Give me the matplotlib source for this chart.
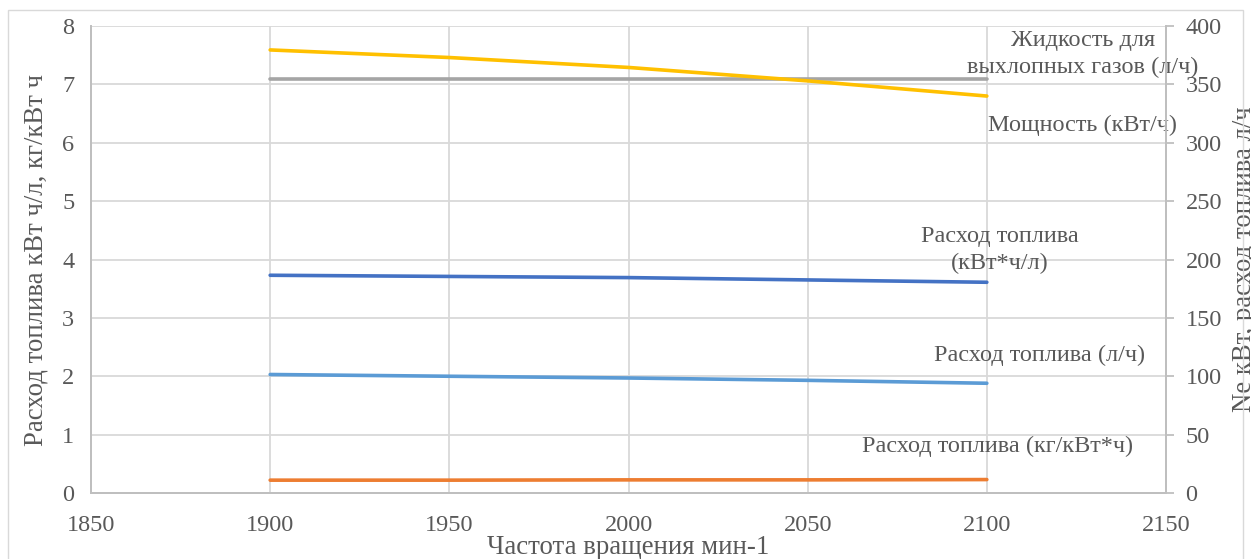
import matplotlib
matplotlib.use("Agg")
import matplotlib.pyplot as plt
from matplotlib.patches import Rectangle

plt.rcParams['font.family'] = ['Liberation Serif', 'DejaVu Serif']

# Engine speed, rpm
rpm = [1900, 1950, 2000, 2050, 2100]

# Left axis series
fuel_kwh_per_l = [3.73, 3.71, 3.69, 3.65, 3.61]      # кВт*ч/л
fuel_kg_per_kwh = [0.22, 0.22, 0.225, 0.225, 0.23]   # кг/кВт*ч
def_fluid = [7.1, 7.1, 7.1, 7.1, 7.1]                # л/ч

# Right axis series
power = [379.5, 373.0, 364.5, 353.0, 340.0]          # кВт
fuel_l_per_h = [101.5, 100.0, 98.5, 96.5, 94.0]      # л/ч

x_ticks = [1850, 1900, 1950, 2000, 2050, 2100, 2150]
left_ticks = [0, 1, 2, 3, 4, 5, 6, 7, 8]
right_ticks = [0, 50, 100, 150, 200, 250, 300, 350, 400]

TXT = '#595959'
GRID = '#D9D9D9'
FS = 17.5
FS_TITLE = 19.3

fig = plt.figure(figsize=(12.51, 5.59), dpi=100)
fig.patches.append(Rectangle((8 / 1251, -0.1), (1243 - 8) / 1251, 1.0 - 10 / 559 + 0.1,
                             transform=fig.transFigure, fill=False,
                             edgecolor=GRID, linewidth=1.0))

ax = fig.add_axes([91 / 1251, 66 / 559, 1075 / 1251, 467 / 559])
ax2 = ax.twinx()

ax.set_xlim(1850, 2150)
ax.set_ylim(0, 8)
ax2.set_ylim(0, 400)
ax.set_xticks(x_ticks)
ax.set_yticks(left_ticks)
ax2.set_yticks(right_ticks)

ax.grid(True, color=GRID, linewidth=1.3)
ax.set_axisbelow(True)
for s in ['top']:
    ax.spines[s].set_visible(False)
    ax2.spines[s].set_visible(False)
for s in ['left', 'bottom', 'right']:
    ax.spines[s].set_color('#BFBFBF')
    ax2.spines[s].set_color('#BFBFBF')
    ax.spines[s].set_linewidth(1.3)
    ax2.spines[s].set_linewidth(1.3)

ax.tick_params(axis='x', length=0, labelsize=FS, labelcolor=TXT, pad=16)
ax.tick_params(axis='y', length=0, labelsize=FS, labelcolor=TXT, pad=12)
ax2.tick_params(axis='y', length=6, width=1.3, color='#BFBFBF', labelsize=FS,
                labelcolor=TXT, pad=8)

lw = 2.6
ax.plot(rpm, def_fluid, color='#A5A5A5', linewidth=lw, solid_capstyle='round')
ax.plot(rpm, fuel_kwh_per_l, color='#4472C4', linewidth=lw, solid_capstyle='round')
ax.plot(rpm, fuel_kg_per_kwh, color='#ED7D31', linewidth=lw, solid_capstyle='round')
ax2.plot(rpm, power, color='#FFC000', linewidth=lw, solid_capstyle='round')
ax2.plot(rpm, fuel_l_per_h, color='#5B9BD5', linewidth=lw, solid_capstyle='round')

ax.set_xlabel('Частота вращения мин-1', fontsize=FS_TITLE, color=TXT, labelpad=-1)
ax.set_ylabel('Расход топлива кВт ч/л, кг/кВт ч', fontsize=FS_TITLE, color=TXT, labelpad=10)
ax2.set_ylabel('Ne кВт, расход топлива л/ч', fontsize=FS_TITLE, color=TXT, labelpad=7)

def label(x, y, text):
    ax.text(x, y, text, fontsize=FS, color=TXT, ha='center', va='center',
            linespacing=1.35, clip_on=False)

label(2126.8, 7.52, 'Жидкость для\nвыхлопных газов (л/ч)')
label(2126.8, 6.30, 'Мощность (кВт/ч)')
label(2103.7, 4.16, 'Расход топлива\n(кВт*ч/л)')
label(2114.8, 2.36, 'Расход топлива (л/ч)')
label(2103.0, 0.80, 'Расход топлива (кг/кВт*ч)')

fig.savefig('out.png', dpi=100)
